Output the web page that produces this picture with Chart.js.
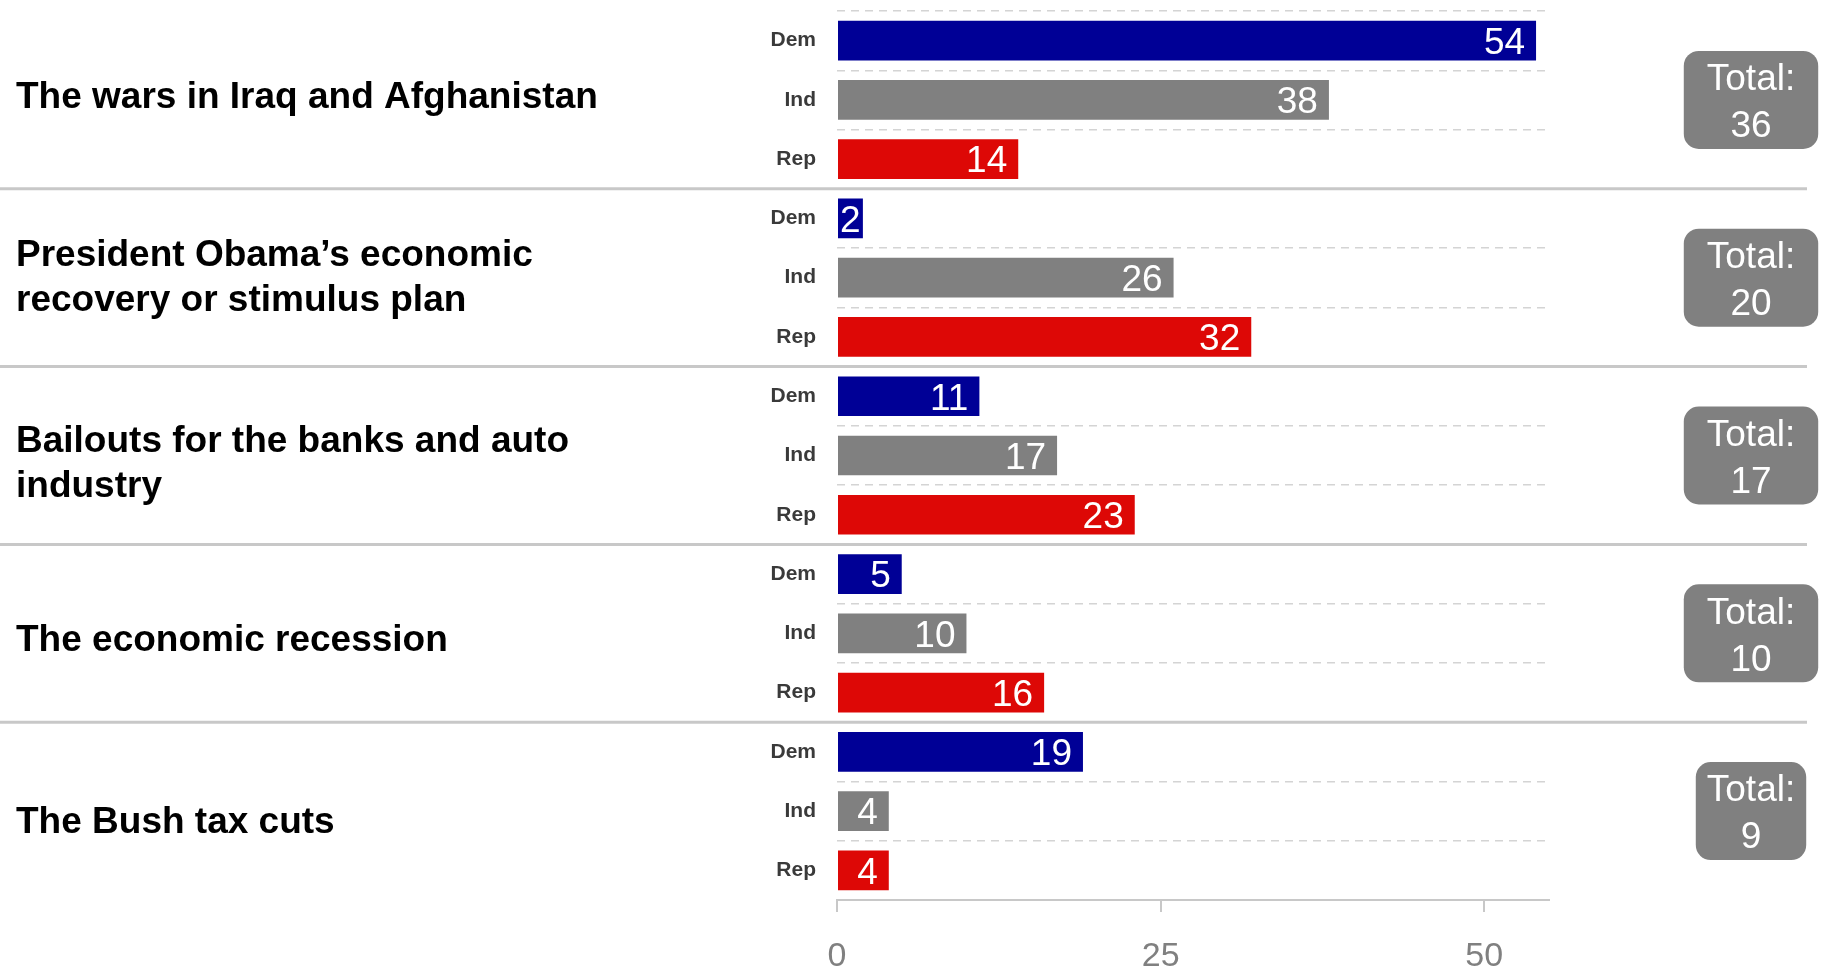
<!DOCTYPE html>
<html>
<head>
<meta charset="utf-8">
<script src="https://cdn.jsdelivr.net/npm/chart.js@4/dist/chart.umd.min.js"></script>
<style>
  html, body { margin: 0; padding: 0; background: #fff; }
  #wrap { width: 1822px; height: 970px; }
</style>
</head>
<body>
<div id="wrap"><canvas id="partisanChart" width="1822" height="970"></canvas></div>
<script>
const topics = [
    ['The wars in Iraq and Afghanistan'],
    ['President Obama\u2019s economic', 'recovery or stimulus plan'],
    ['Bailouts for the banks and auto', 'industry'],
    ['The economic recession'],
    ['The Bush tax cuts']
];
const parties = ['Dem', 'Ind', 'Rep'];
const demValues = [54, 2, 11, 5, 19];
const indValues = [38, 26, 17, 10, 4];
const repValues = [14, 32, 23, 16, 4];
const totals = [36, 20, 17, 10, 9];
const xTicks = [0, 25, 50];

const partyColors = { Dem: '#000096', Ind: '#808080', Rep: '#dd0806' };
const FONT = '"Liberation Sans", Arial, sans-serif';
// petit décalage vertical des libellés de sujet (comme dans l'original)
const topicNudge = [-5, -2.5, 5.5, 4.5, 9];

// une barre par parti et par sujet
const labels = [];
const values = [];
const colors = [];
topics.forEach((t, i) => {
    const byParty = [demValues[i], indValues[i], repValues[i]];
    parties.forEach((p, j) => {
        labels.push(p);
        values.push(byParty[j]);
        colors.push(partyColors[p]);
    });
});

const decorPlugin = {
    id: 'decor',
    afterDatasetsDraw(chart) {
        const ctx = chart.ctx;
        const meta = chart.getDatasetMeta(0);

        // valeurs dans les barres
        ctx.save();
        ctx.font = '37px ' + FONT;
        ctx.fillStyle = '#fff';
        ctx.textAlign = 'right';
        ctx.textBaseline = 'alphabetic';
        meta.data.forEach((bar, i) => {
            const txt = String(values[i]);
            const w = ctx.measureText(txt).width;
            const x = Math.max(bar.x - 11, bar.base + w + 2);
            ctx.fillText(txt, x, bar.y + 13.3);
        });
        ctx.restore();
    },
    afterDraw(chart) {
        const ctx = chart.ctx;
        const y = chart.scales.y;
        const step = y.getPixelForValue(1) - y.getPixelForValue(0);

        ctx.save();
        // séparateurs entre sujets
        ctx.strokeStyle = '#c8c8c8';
        ctx.lineWidth = 3;
        for (let g = 1; g < topics.length; g++) {
            const py = y.getPixelForValue(g * 3) - step / 2;
            ctx.beginPath();
            ctx.moveTo(0, py);
            ctx.lineTo(1807, py);
            ctx.stroke();
        }

        topics.forEach((lines, g) => {
            const cy = y.getPixelForValue(g * 3 + 1);

            // libellé du sujet
            ctx.font = 'bold 37px ' + FONT;
            ctx.fillStyle = '#000';
            ctx.textAlign = 'left';
            ctx.textBaseline = 'alphabetic';
            const lh = 45;
            const first = cy - (lines.length - 1) * lh / 2 + topicNudge[g];
            lines.forEach((ln, k) => ctx.fillText(ln, 16, first + k * lh + 13.2));

            // boîte total
            ctx.font = '37px ' + FONT;
            const digits = String(totals[g]).length;
            const tw = ctx.measureText('Total:').width;
            const bw = tw + (digits > 1 ? 46 : 22);
            const bh = 98;
            const bx = 1751 - bw / 2;
            const by = cy - bh / 2;
            ctx.fillStyle = '#808080';
            ctx.beginPath();
            ctx.roundRect(bx, by, bw, bh, 15);
            ctx.fill();
            ctx.fillStyle = '#fff';
            ctx.textAlign = 'center';
            ctx.fillText('Total:', 1751, cy - 23 + 13.3);
            ctx.fillText(String(totals[g]), 1751, cy + 24 + 13.3);
        });
        ctx.restore();
    }
};

new Chart(document.getElementById('partisanChart'), {
    type: 'bar',
    data: {
        labels: labels,
        datasets: [{
            data: values,
            backgroundColor: colors,
            borderWidth: 0,
            categoryPercentage: 1,
            barPercentage: 0.67
        }]
    },
    plugins: [decorPlugin],
    options: {
        indexAxis: 'y',
        responsive: false,
        animation: false,
        layout: { padding: { top: 11, right: 273, left: 0, bottom: 0 } },
        plugins: {
            legend: { display: false },
            tooltip: { enabled: false }
        },
        scales: {
            x: {
                min: 0,
                max: 55,
                afterBuildTicks: s => { s.ticks = xTicks.map(v => ({ value: v })); },
                afterFit: s => { s.height = 70; },
                grid: {
                    drawOnChartArea: false,
                    drawTicks: true,
                    tickLength: 12,
                    color: '#c8c8c8',
                    lineWidth: 2
                },
                border: { color: '#c8c8c8', width: 2 },
                ticks: {
                    color: '#808080',
                    padding: 24,
                    font: { family: FONT, size: 34 }
                }
            },
            y: {
                afterFit: s => {
                    s.width = 837;
                    s.paddingTop = 0;
                    s.paddingBottom = 0;
                },
                grid: {
                    offset: true,
                    drawTicks: false,
                    color: '#d4d4d4',
                    lineWidth: 1.5
                },
                border: { display: false, dash: [8, 6] },
                ticks: {
                    color: '#3a3a3a',
                    padding: 21,
                    font: { family: FONT, size: 21, weight: 'bold' }
                }
            }
        }
    }
});
</script>
</body>
</html>
